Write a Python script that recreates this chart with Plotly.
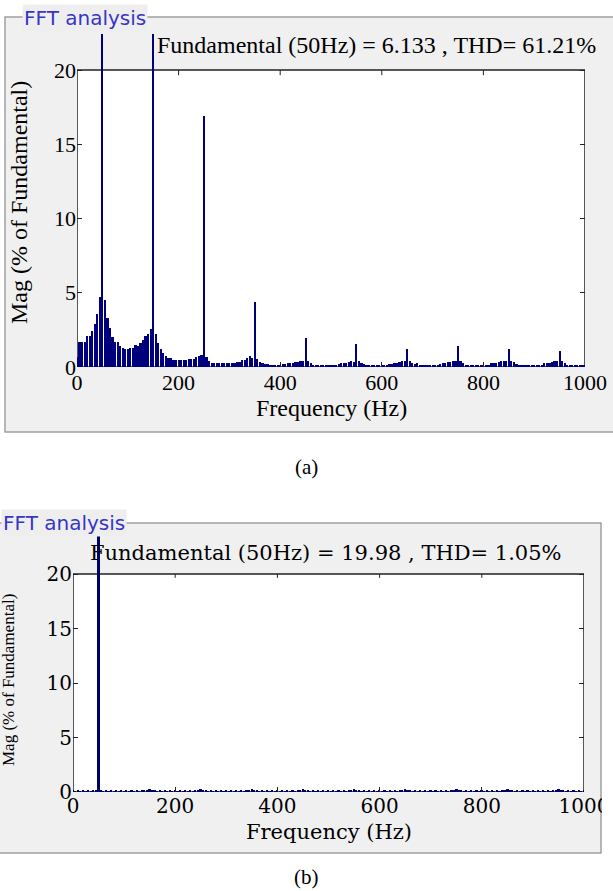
import plotly.graph_objects as go

W, H = 613, 891

# ---------------- data ----------------
freq = [5 * i for i in range(201)]  # 0..1000 Hz, 5 Hz bins

mag_a = [
    0.7, 1.7, 1.7, 1.7, 2.1, 2.1, 2.45, 2.9, 3.6, 4.7,
    100, 4.5, 3.3, 2.6, 2.0, 1.7, 1.7, 1.4, 1.3, 1.2,
    1.2, 1.25, 1.25, 1.45, 1.4, 1.6, 1.8, 2.1, 2.2, 2.55,
    58, 2.2, 1.6, 1.2, 0.95, 0.75, 0.6, 0.6, 0.5, 0.45,
    0.45, 0.5, 0.45, 0.5, 0.55, 0.55, 0.55, 0.65, 0.75, 0.8,
    16.9, 0.7, 0.4, 0.3, 0.25, 0.25, 0.25, 0.25, 0.25, 0.25,
    0.25, 0.25, 0.25, 0.35, 0.35, 0.45, 0.5, 0.6, 0.72, 0.6,
    4.4, 0.55, 0.35, 0.3, 0.22, 0.2, 0.12, 0.1, 0.1, 0.1,
    0.12, 0.2, 0.22, 0.25, 0.3, 0.3, 0.35, 0.35, 0.38, 0.4,
    1.95, 0.38, 0.25, 0.15, 0.12, 0.12, 0.12, 0.12, 0.1, 0.12,
    0.15, 0.15, 0.15, 0.2, 0.25, 0.3, 0.3, 0.35, 0.38, 0.35,
    1.55, 0.4, 0.3, 0.2, 0.12, 0.1, 0.1, 0.08, 0.1, 0.1,
    0.12, 0.1, 0.15, 0.2, 0.2, 0.25, 0.3, 0.35, 0.4, 0.42,
    1.2, 0.42, 0.3, 0.2, 0.25, 0.12, 0.1, 0.1, 0.1, 0.12,
    0.1, 0.15, 0.15, 0.2, 0.25, 0.3, 0.35, 0.35, 0.4, 0.42,
    1.4, 0.42, 0.3, 0.15, 0.12, 0.1, 0.1, 0.1, 0.1, 0.15,
    0.12, 0.1, 0.15, 0.25, 0.3, 0.3, 0.35, 0.4, 0.4, 0.42,
    1.2, 0.42, 0.35, 0.2, 0.15, 0.12, 0.12, 0.1, 0.1, 0.1,
    0.12, 0.12, 0.12, 0.15, 0.25, 0.3, 0.3, 0.35, 0.4, 0.4,
    1.05, 0.4, 0.3, 0.15, 0.12, 0.1, 0.1, 0.1, 0.1, 0.1,
    0.12,
]

mag_b = [
    0.1, 0.08, 0.1, 0.08, 0.1, 0.08, 0.1, 0.08, 0.1, 0.1,
    100, 0.1, 0.08, 0.1, 0.08, 0.1, 0.08, 0.1, 0.08, 0.1,
    0.08, 0.1, 0.08, 0.1, 0.08, 0.1, 0.08, 0.1, 0.12, 0.15,
    0.3, 0.15, 0.1, 0.08, 0.1, 0.08, 0.1, 0.08, 0.1, 0.08,
    0.1, 0.08, 0.1, 0.08, 0.1, 0.08, 0.1, 0.08, 0.12, 0.15,
    0.3, 0.15, 0.1, 0.08, 0.1, 0.08, 0.1, 0.08, 0.1, 0.08,
    0.1, 0.08, 0.1, 0.08, 0.1, 0.08, 0.1, 0.08, 0.12, 0.15,
    0.28, 0.15, 0.1, 0.08, 0.1, 0.08, 0.1, 0.08, 0.1, 0.08,
    0.1, 0.08, 0.1, 0.08, 0.1, 0.08, 0.1, 0.08, 0.12, 0.15,
    0.28, 0.15, 0.1, 0.08, 0.1, 0.08, 0.1, 0.08, 0.1, 0.08,
    0.1, 0.08, 0.1, 0.08, 0.1, 0.08, 0.1, 0.08, 0.12, 0.15,
    0.28, 0.15, 0.1, 0.08, 0.1, 0.08, 0.1, 0.08, 0.1, 0.08,
    0.1, 0.08, 0.1, 0.08, 0.1, 0.08, 0.1, 0.08, 0.12, 0.15,
    0.28, 0.15, 0.1, 0.08, 0.1, 0.08, 0.1, 0.08, 0.1, 0.08,
    0.1, 0.08, 0.1, 0.08, 0.1, 0.08, 0.1, 0.08, 0.12, 0.15,
    0.28, 0.15, 0.1, 0.08, 0.1, 0.08, 0.1, 0.08, 0.1, 0.08,
    0.1, 0.08, 0.1, 0.08, 0.1, 0.08, 0.1, 0.08, 0.12, 0.15,
    0.28, 0.15, 0.1, 0.08, 0.1, 0.08, 0.1, 0.08, 0.1, 0.08,
    0.1, 0.08, 0.1, 0.08, 0.1, 0.08, 0.1, 0.08, 0.12, 0.15,
    0.25, 0.15, 0.1, 0.08, 0.1, 0.08, 0.1, 0.08, 0.1, 0.08,
    0.1,
]

harmonics = [50, 150, 250, 350, 450, 550, 650, 750, 850, 950]
x_ticks = [0, 200, 400, 600, 800, 1000]
y_ticks = [0, 5, 10, 15, 20]

title_a = "Fundamental (50Hz) = 6.133 , THD= 61.21%"
title_b = "Fundamental (50Hz) = 19.98 , THD= 1.05%"
xlabel = "Frequency (Hz)"
ylabel = "Mag (% of Fundamental)"

# --------------- helpers ---------------
def px(x):
    return x / W

def py(y):
    return 1 - y / H

fig = go.Figure()

def widths(fs, spike_w, normal_w):
    return [spike_w if f in harmonics else normal_w for f in fs]

fig.add_trace(go.Bar(x=freq, y=mag_a, width=widths(freq, 2.0, 4.3),
                     marker=dict(color="#00007f", line=dict(width=0)),
                     xaxis="x", yaxis="y", showlegend=False))
fig.add_trace(go.Bar(x=freq, y=mag_b, width=widths(freq, 5.0, 3.2),
                     marker=dict(color="#000066", line=dict(width=0)),
                     xaxis="x2", yaxis="y2", showlegend=False))

# panel geometry (pixels)
A = dict(x0=77, x1=585, y0=367, y20=70, ytop=34)
B = dict(x0=73, x1=584, y0=792, y20=574, ytop=536)

def yr(P):
    return 20 * (P["y0"] - P["ytop"]) / (P["y0"] - P["y20"])

serif = "Liberation Serif"
serif_b = "DejaVu Serif"

def axis(dom, rng, vals, anchor, fam, size, mirror=False):
    return dict(domain=dom, range=rng, tickvals=vals, anchor=anchor,
                showgrid=False, zeroline=False, showline=False,
                ticks="inside", ticklen=5, tickcolor="#222",
                mirror="ticks" if mirror else False, automargin=False,
                tickfont=dict(family=fam, size=size, color="black"))

fig.update_layout(
    width=W, height=H, margin=dict(l=0, r=0, t=0, b=0, autoexpand=False),
    paper_bgcolor="white", plot_bgcolor="rgba(0,0,0,0)",
    bargap=0,
    xaxis=axis([px(A["x0"]), px(A["x1"])], [0, 1000], x_ticks, "y", serif, 22),
    yaxis=axis([py(A["y0"]), py(A["ytop"])], [0, yr(A)], y_ticks, "x", serif, 22, True),
    xaxis2=axis([px(B["x0"]), px(B["x1"])], [0, 1000], x_ticks, "y2", serif_b, 20),
    yaxis2=axis([py(B["y0"]), py(B["ytop"])], [0, yr(B)], y_ticks, "x2", serif_b, 20, True),
)

shapes = []
# gray panel boxes
shapes.append(dict(type="rect", xref="paper", yref="paper", layer="below",
                   x0=px(5), x1=px(620), y0=py(432), y1=py(17),
                   fillcolor="#f0f0f0", line=dict(color="#a0a0a0", width=1.5)))
shapes.append(dict(type="rect", xref="paper", yref="paper", layer="below",
                   x0=px(-5), x1=px(601), y0=py(853), y1=py(523),
                   fillcolor="#f0f0f0", line=dict(color="#a0a0a0", width=1.5)))
# axes frames (white plot area 0..20)
for xr, yrf in (("x", "y"), ("x2", "y2")):
    shapes.append(dict(type="rect", xref=xr, yref=yrf, layer="below",
                       x0=0, x1=1000, y0=0, y1=20, fillcolor="white",
                       line=dict(color="#222", width=1.5)))
    for t in x_ticks[1:-1]:
        shapes.append(dict(type="line", xref=xr, yref=yrf, layer="below",
                           x0=t, x1=t, y0=20, y1=20 - 0.35,
                           line=dict(color="#222", width=1)))
# cut-off strip right of lower panel
shapes.append(dict(type="rect", xref="paper", yref="paper", layer="above",
                   x0=px(602), x1=px(620), y0=py(860), y1=py(520),
                   fillcolor="white", line=dict(width=0)))

def note(text, x, y, fam, size, color="black", **kw):
    d = dict(text=text, x=px(x), y=py(y), xref="paper", yref="paper",
             xanchor="center", yanchor="middle", showarrow=False,
             font=dict(family=fam, size=size, color=color))
    d.update(kw)
    return d

ann = [
    note("FFT analysis", 22, 18, "DejaVu Sans", 20, "#3636c8",
         xanchor="left", bgcolor="#eeeeee", borderpad=1),
    note("FFT analysis", 1, 523, "DejaVu Sans", 20, "#3636c8",
         xanchor="left", bgcolor="#eeeeee", borderpad=1),
    note(title_a, 376, 45, serif, 24),
    note(title_b, 326, 553, serif_b, 21),
    note(xlabel, 331, 408, serif, 24),
    note(xlabel, 329, 832, serif_b, 21),
    note(ylabel, 19, 203, serif, 24, textangle=-90),
    note(ylabel, 8, 680, serif, 17, textangle=-90),
    note("(a)", 307, 467, serif, 21),
    note("(b)", 307, 877, serif, 21),
]

fig.update_layout(shapes=shapes, annotations=ann)
fig.write_html("out.html")
